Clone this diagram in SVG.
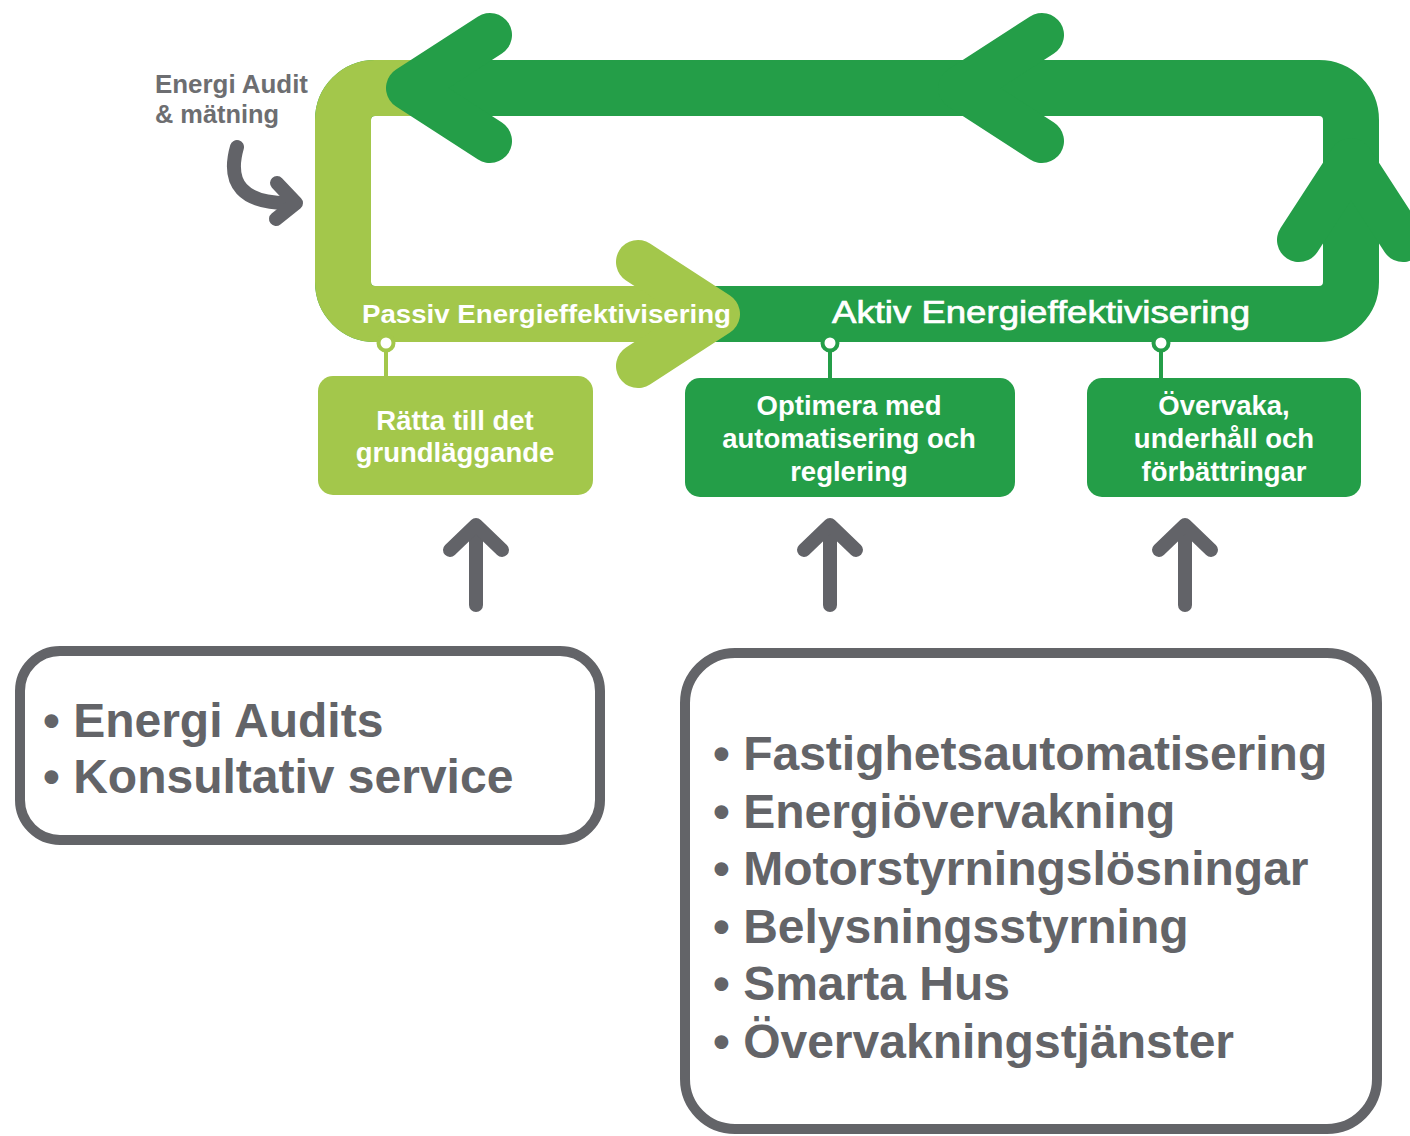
<svg xmlns="http://www.w3.org/2000/svg" width="1410" height="1136" viewBox="0 0 1410 1136">
  <style>
    .band { fill: none; stroke-width: 56; }
    .dark { stroke: #249e48; }
    .light { stroke: #a3c74b; }
    .chev { fill: none; stroke-width: 44; stroke-linecap: round; stroke-linejoin: round; }
    .garrow { fill: none; stroke: #626368; stroke-width: 14; stroke-linecap: round; stroke-linejoin: round; }
    .pin { fill: #ffffff; stroke-width: 4; }
    .stem { stroke-width: 4; }
    .boxd { fill: #249e48; }
    .boxl { fill: #a3c74b; }
    .frame { fill: #ffffff; stroke: #636468; stroke-width: 10; }
    .t { font-family: "Liberation Sans", Arial, sans-serif; }
    .boxtxt { font-size: 27.5px; font-weight: bold; fill: #ffffff; text-anchor: middle; }
    .list { font-size: 48px; font-weight: bold; fill: #636468; }
    .note { font-size: 25px; font-weight: bold; fill: #6d6e71; }
  </style>

  <rect width="1410" height="1136" fill="#ffffff"/>

  <!-- cycle loop -->
  <g id="cycle">
    <path class="band dark" d="M375 88 H1319 A32 32 0 0 1 1351 120 V282 A32 32 0 0 1 1319 314 H375 A32 32 0 0 1 343 282 V120 A32 32 0 0 1 375 88 Z"/>
    <path class="band light" d="M440 88 H375 A32 32 0 0 0 343 120 V282 A32 32 0 0 0 375 314 H700"/>
    <polyline class="chev dark" points="490,35 408,88 490,141"/>
    <polyline class="chev dark" points="1042,35 960,88 1042,141"/>
    <polyline class="chev dark" points="1299,240 1351,160 1403,240"/>
    <polyline class="chev light" points="638,262 718,314 638,366"/>
    <text class="t" x="362" y="323" font-size="25" font-weight="bold" fill="#ffffff" textLength="369" lengthAdjust="spacingAndGlyphs">Passiv Energieffektivisering</text>
    <text class="t" x="832" y="323" font-size="31" fill="#ffffff" stroke="#ffffff" stroke-width="0.7" textLength="418" lengthAdjust="spacingAndGlyphs">Aktiv Energieffektivisering</text>
  </g>

  <!-- audit entry -->
  <g id="audit">
    <text class="t note" x="155" y="93" textLength="153" lengthAdjust="spacingAndGlyphs">Energi Audit</text>
    <text class="t note" x="155" y="123" textLength="124" lengthAdjust="spacingAndGlyphs">&amp; mätning</text>
    <path class="garrow" d="M237 147 Q221 203 288 203" stroke-width="15"/>
    <polyline class="garrow" points="277,183 296,203 276,219"/>
  </g>

  <!-- connectors -->
  <g id="connectors">
    <line class="stem light" x1="386" y1="350" x2="386" y2="378"/>
    <circle class="pin light" cx="386" cy="343" r="7.5"/>
    <line class="stem dark" x1="830" y1="350" x2="830" y2="380"/>
    <circle class="pin dark" cx="830" cy="343" r="7.5"/>
    <line class="stem dark" x1="1161" y1="350" x2="1161" y2="380"/>
    <circle class="pin dark" cx="1161" cy="343" r="7.5"/>

    <line class="garrow" x1="476" y1="532" x2="476" y2="605"/>
    <polyline class="garrow" points="450,550 476,525 502,550"/>
    <line class="garrow" x1="830" y1="532" x2="830" y2="605"/>
    <polyline class="garrow" points="804,550 830,525 856,550"/>
    <line class="garrow" x1="1185" y1="532" x2="1185" y2="605"/>
    <polyline class="garrow" points="1159,550 1185,525 1211,550"/>
  </g>

  <!-- step boxes -->
  <g id="step-basics">
    <rect class="boxl" x="318" y="376" width="275" height="119" rx="15"/>
    <text class="t boxtxt" x="455" y="430">Rätta till det</text>
    <text class="t boxtxt" x="455" y="462">grundläggande</text>
  </g>
  <g id="step-optimize">
    <rect class="boxd" x="685" y="378" width="330" height="119" rx="15"/>
    <text class="t boxtxt" x="849" y="415">Optimera med</text>
    <text class="t boxtxt" x="849" y="448">automatisering och</text>
    <text class="t boxtxt" x="849" y="481">reglering</text>
  </g>
  <g id="step-monitor">
    <rect class="boxd" x="1087" y="378" width="274" height="119" rx="15"/>
    <text class="t boxtxt" x="1224" y="415">Övervaka,</text>
    <text class="t boxtxt" x="1224" y="448">underhåll och</text>
    <text class="t boxtxt" x="1224" y="481">förbättringar</text>
  </g>

  <!-- service lists -->
  <g id="services-passive">
    <rect class="frame" x="20" y="651" width="580" height="189" rx="40"/>
    <text class="t list" x="43" y="737">• Energi Audits</text>
    <text class="t list" x="43" y="793">• Konsultativ service</text>
  </g>
  <g id="services-active">
    <rect class="frame" x="685" y="653" width="692" height="476" rx="50"/>
    <text class="t list" x="713" y="770">• Fastighetsautomatisering</text>
    <text class="t list" x="713" y="828">• Energiövervakning</text>
    <text class="t list" x="713" y="885">• Motorstyrningslösningar</text>
    <text class="t list" x="713" y="943">• Belysningsstyrning</text>
    <text class="t list" x="713" y="1000">• Smarta Hus</text>
    <text class="t list" x="713" y="1058">• Övervakningstjänster</text>
  </g>
</svg>
